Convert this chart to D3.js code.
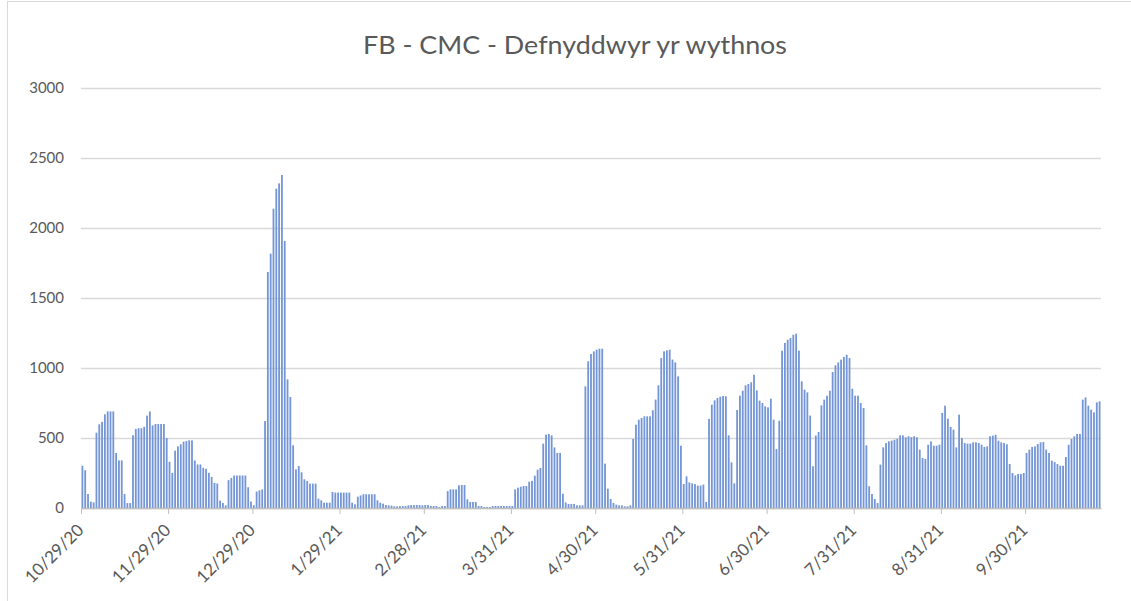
<!DOCTYPE html>
<html>
<head>
<meta charset="utf-8">
<script src="https://cdn.jsdelivr.net/npm/d3@7"></script>
<style>
  body { margin: 0; background: #fff; }
  svg { display: block; }
</style>
</head>
<body>
<div id="chart"></div>
<script>
// daily values, first bar is 10/29/20
const start_date = '2020-10-29';
const chart_title = 'FB - CMC - Defnyddwyr yr wythnos';
const y_ticks = [0, 500, 1000, 1500, 2000, 2500, 3000];
const x_tick_labels = ['10/29/20', '11/29/20', '12/29/20', '1/29/21', '2/28/21', '3/31/21',
    '4/30/21', '5/31/21', '6/30/21', '7/31/21', '8/31/21', '9/30/21'];
const users = [
    302, 270, 100, 45, 40, 538, 598, 615, 669, 690,
    690, 690, 393, 340, 340, 100, 35, 35, 520, 565,
    570, 570, 580, 660, 690, 590, 600, 600, 600, 600,
    500, 330, 250, 410, 440, 455, 474, 478, 483, 483,
    340, 311, 311, 287, 280, 251, 222, 179, 175, 53,
    36, 19, 199, 215, 232, 232, 232, 232, 232, 148,
    46, 20, 118, 126, 133, 621, 1686, 1817, 2138, 2281,
    2319, 2379, 1907, 919, 793, 448, 276, 300, 255, 205,
    193, 174, 174, 174, 67, 55, 38, 38, 38, 114,
    110, 110, 110, 110, 110, 110, 38, 26, 81, 90,
    98, 98, 98, 98, 98, 55, 38, 31, 21, 19,
    17, 12, 12, 14, 14, 14, 19, 21, 21, 21,
    21, 19, 21, 21, 14, 14, 14, 7, 14, 14,
    121, 133, 133, 133, 162, 164, 164, 62, 43, 43,
    43, 14, 14, 7, 7, 7, 14, 14, 14, 14,
    14, 14, 14, 14, 133, 145, 152, 157, 157, 188,
    194, 231, 274, 286, 460, 524, 529, 519, 433, 393,
    393, 102, 40, 29, 29, 29, 19, 19, 19, 869,
    1048, 1100, 1119, 1131, 1138, 1138, 317, 138, 64, 36,
    24, 19, 19, 12, 12, 19, 493, 595, 631, 643,
    655, 655, 655, 698, 774, 876, 1071, 1119, 1126, 1131,
    1060, 1040, 940, 445, 171, 226, 183, 176, 171, 160,
    160, 167, 43, 636, 738, 769, 786, 795, 800, 798,
    519, 326, 176, 700, 802, 838, 876, 886, 898, 952,
    840, 767, 750, 726, 719, 781, 631, 421, 624, 1124,
    1179, 1202, 1214, 1238, 1245, 1124, 905, 845, 826, 660,
    298, 518, 543, 733, 774, 802, 838, 971, 1019, 1040,
    1060, 1079, 1095, 1071, 852, 802, 802, 750, 714, 448,
    155, 100, 64, 36, 310, 433, 464, 476, 481, 488,
    495, 519, 519, 505, 512, 506, 512, 505, 417, 357,
    350, 452, 476, 445, 445, 452, 679, 731, 638, 579,
    560, 433, 667, 500, 464, 460, 460, 469, 469, 464,
    452, 436, 440, 512, 517, 523, 481, 469, 464, 455,
    314, 250, 233, 243, 243, 250, 393, 417, 436, 440,
    457, 469, 471, 417, 393, 338, 329, 314, 302, 302,
    364, 452, 493, 512, 529, 529, 774, 790, 731, 702,
    683, 755, 762
];

const width = 1131, height = 601;
const margin = {left: 81, right: 30, top: 88, bottom: 93};
const font = 'Lato, "Open Sans", sans-serif';
const text_colour = '#595959';

const parse_date = d3.timeParse('%Y-%m-%d');
const parse_label = d3.timeParse('%m/%d/%y');
const first_day = parse_date(start_date);

let data = users.map(function (v, i) {
    return {date: d3.timeDay.offset(first_day, i), value: v};
});

let svg = d3.select('#chart').append('svg')
    .attr('width', width)
    .attr('height', height);

// chart border
svg.append('rect')
    .attr('x', 7.5).attr('y', 1.5)
    .attr('width', 1140).attr('height', 640)
    .attr('fill', 'none')
    .attr('stroke', '#d9d9d9');

let x = d3.scaleTime()
    .domain([first_day, d3.timeDay.offset(first_day, users.length)])
    .range([margin.left, width - margin.right]);

let y = d3.scaleLinear()
    .domain([0, 3000])
    .range([height - margin.bottom, margin.top]);

// gridlines + y labels
let y_axis = svg.append('g')
    .attr('transform', 'translate(' + margin.left + ',0)')
    .call(d3.axisLeft(y).tickValues(y_ticks)
        .tickFormat(d3.format('d'))
        .tickSize(-(width - margin.left - margin.right))
        .tickPadding(17));
y_axis.select('.domain').remove();
y_axis.selectAll('.tick line')
    .attr('stroke', '#d9d9d9')
    .attr('stroke-width', 1.3);
y_axis.selectAll('.tick text')
    .attr('fill', text_colour)
    .style('font-family', font)
    .style('font-size', '15px');

// bars
let step = x(d3.timeDay.offset(first_day, 1)) - x(first_day);
svg.append('g')
    .selectAll('rect')
    .data(data)
    .join('rect')
    .attr('x', d => x(d.date) + 0.5)
    .attr('y', d => y(d.value))
    .attr('width', step - 1.0)
    .attr('height', d => y(0) - y(d.value))
    .attr('fill', '#7496d6');

// x axis
let tick_dates = x_tick_labels.map(parse_label);
let x_axis = svg.append('g')
    .attr('transform', 'translate(0,' + y(0) + ')')
    .call(d3.axisBottom(x).tickValues(tick_dates)
        .tickFormat(function (d, i) { return x_tick_labels[i]; })
        .tickSizeInner(6)
        .tickSizeOuter(0));
x_axis.select('.domain')
    .attr('stroke', '#bfbfbf')
    .attr('stroke-width', 1.3);
x_axis.selectAll('.tick line')
    .attr('stroke', '#bfbfbf');
x_axis.selectAll('.tick text')
    .attr('fill', text_colour)
    .style('font-family', font)
    .style('font-size', '17px')
    .attr('text-anchor', 'end')
    .attr('y', 0)
    .attr('dy', '0.35em')
    .attr('transform', 'translate(-1,19) rotate(-45)');

// title
svg.append('text')
    .attr('x', 575)
    .attr('y', 54)
    .attr('text-anchor', 'middle')
    .attr('fill', text_colour)
    .style('font-family', font)
    .style('font-size', '25px')
    .attr('textLength', 424)
    .attr('lengthAdjust', 'spacingAndGlyphs')
    .text(chart_title);
</script>
</body>
</html>
